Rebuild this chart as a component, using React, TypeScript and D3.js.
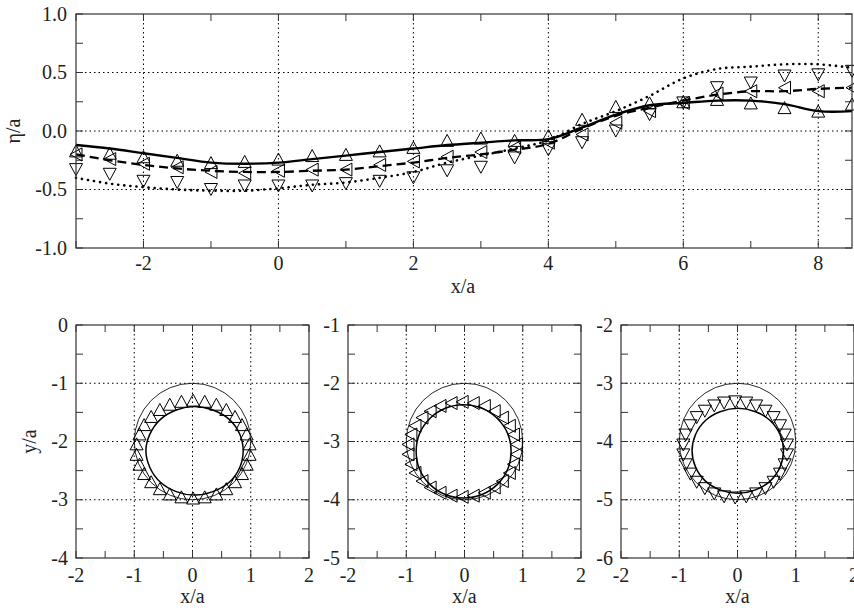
import React from 'react';
import * as d3 from 'd3';

// ---------- top panel data ----------
const xPositions = [-3, -2.5, -2, -1.5, -1, -0.5, 0, 0.5, 1, 1.5, 2, 2.5, 3, 3.5, 4, 4.5, 5, 5.5, 6, 6.5, 7, 7.5, 8, 8.5];
const solidLine = [-0.12, -0.15, -0.19, -0.23, -0.27, -0.28, -0.27, -0.24, -0.21, -0.18, -0.15, -0.12, -0.10, -0.08, -0.07, 0.03, 0.14, 0.22, 0.24, 0.26, 0.26, 0.23, 0.17, 0.17];
const dashedLine = [-0.20, -0.25, -0.29, -0.32, -0.34, -0.35, -0.35, -0.34, -0.33, -0.30, -0.27, -0.23, -0.20, -0.16, -0.11, 0.02, 0.13, 0.20, 0.26, 0.31, 0.34, 0.34, 0.36, 0.37];
const dottedLine = [-0.40, -0.45, -0.48, -0.50, -0.51, -0.51, -0.49, -0.46, -0.44, -0.40, -0.35, -0.27, -0.21, -0.15, -0.08, 0.06, 0.17, 0.30, 0.45, 0.53, 0.55, 0.57, 0.57, 0.54];
const upTriangles = [-0.17, -0.19, -0.22, -0.25, -0.27, -0.26, -0.24, -0.21, -0.20, -0.17, -0.14, -0.08, -0.06, -0.08, -0.04, 0.10, 0.21, 0.24, 0.25, 0.27, 0.24, 0.20, 0.17, 0.23];
const leftTriangles = [-0.20, -0.24, -0.28, -0.31, -0.35, -0.36, -0.34, -0.33, -0.33, -0.29, -0.26, -0.22, -0.18, -0.14, -0.10, -0.03, 0.07, 0.17, 0.24, 0.32, 0.34, 0.37, 0.34, 0.37];
const downTriangles = [-0.33, -0.37, -0.43, -0.44, -0.50, -0.47, -0.47, -0.47, -0.45, -0.43, -0.40, -0.34, -0.31, -0.23, -0.16, -0.10, 0.00, 0.14, 0.24, 0.37, 0.41, 0.47, 0.48, 0.51];
const topXTickLabels = [-2, 0, 2, 4, 6, 8];
const topYTickValues = [1, 0.5, 0, -0.5, -1];
const topYTickLabels = ['1.0', '0.5', '0.0', '-0.5', '-1.0'];

// ---------- bottom panels data ----------
const ringCenters = [-2, -3, -4];
const ringRadius = 1;
const bottomXTickLabels = [-2, -1, 0, 1, 2];

const ring1Line: [number, number][] = [
  [0.04, -1.40], [0.35, -1.46], [0.63, -1.62], [0.81, -1.87], [0.87, -2.16], [0.81, -2.45], [0.63, -2.70], [0.35, -2.86],
  [0.04, -2.92], [-0.28, -2.86], [-0.55, -2.70], [-0.73, -2.45], [-0.80, -2.16], [-0.73, -1.87], [-0.55, -1.62], [-0.28, -1.46],
];
const ring1Markers: [number, number][] = [
  [0.01, -1.29], [0.21, -1.31], [0.41, -1.36], [0.58, -1.45], [0.73, -1.57], [0.85, -1.71], [0.93, -1.87], [0.98, -2.04],
  [0.98, -2.22], [0.93, -2.39], [0.85, -2.55], [0.73, -2.69], [0.58, -2.81], [0.41, -2.90], [0.21, -2.95], [0.01, -2.97],
  [-0.19, -2.95], [-0.39, -2.90], [-0.56, -2.81], [-0.71, -2.69], [-0.83, -2.55], [-0.91, -2.39], [-0.96, -2.22], [-0.96, -2.04],
  [-0.91, -1.87], [-0.83, -1.71], [-0.71, -1.57], [-0.56, -1.45], [-0.39, -1.36], [-0.19, -1.31],
];
const ring2Line: [number, number][] = [
  [-0.02, -2.37], [0.30, -2.43], [0.56, -2.60], [0.74, -2.86], [0.80, -3.17], [0.74, -3.48], [0.56, -3.74], [0.30, -3.91],
  [-0.02, -3.97], [-0.33, -3.91], [-0.59, -3.74], [-0.77, -3.48], [-0.83, -3.17], [-0.77, -2.86], [-0.59, -2.60], [-0.33, -2.43],
];
const ring2Markers: [number, number][] = [
  [-0.04, -2.32], [0.15, -2.34], [0.34, -2.39], [0.51, -2.48], [0.65, -2.59], [0.77, -2.73], [0.84, -2.88], [0.89, -3.05],
  [0.89, -3.22], [0.84, -3.39], [0.77, -3.54], [0.65, -3.68], [0.51, -3.79], [0.34, -3.88], [0.15, -3.93], [-0.04, -3.95],
  [-0.23, -3.93], [-0.42, -3.88], [-0.59, -3.79], [-0.73, -3.68], [-0.85, -3.54], [-0.92, -3.39], [-0.97, -3.22], [-0.97, -3.05],
  [-0.92, -2.88], [-0.85, -2.73], [-0.73, -2.59], [-0.59, -2.48], [-0.42, -2.39], [-0.23, -2.34],
];
const ring3Line: [number, number][] = [
  [0.01, -3.43], [0.31, -3.49], [0.56, -3.64], [0.73, -3.88], [0.79, -4.16], [0.73, -4.44], [0.56, -4.68], [0.31, -4.83],
  [0.01, -4.89], [-0.30, -4.83], [-0.55, -4.68], [-0.72, -4.44], [-0.78, -4.16], [-0.72, -3.88], [-0.55, -3.64], [-0.30, -3.49],
];
const ring3Markers: [number, number][] = [
  [-0.04, -3.32], [0.15, -3.34], [0.32, -3.39], [0.48, -3.48], [0.62, -3.59], [0.73, -3.73], [0.81, -3.89], [0.85, -4.06],
  [0.85, -4.23], [0.81, -4.40], [0.73, -4.56], [0.62, -4.70], [0.48, -4.81], [0.32, -4.90], [0.15, -4.95], [-0.04, -4.97],
  [-0.23, -4.95], [-0.40, -4.90], [-0.56, -4.81], [-0.70, -4.70], [-0.81, -4.56], [-0.89, -4.40], [-0.93, -4.23], [-0.93, -4.06],
  [-0.89, -3.89], [-0.81, -3.73], [-0.70, -3.59], [-0.56, -3.48], [-0.40, -3.39], [-0.23, -3.34],
];

const FONT = "'Liberation Serif', 'DejaVu Serif', serif";
const TEXT = '#222';
const FRAME = '#333';
const FS = 20;

type Dir = 'up' | 'down' | 'left';
function triPath(dir: Dir, w: number, h: number): string {
  if (dir === 'up') return `M0,${-h / 2}L${w / 2},${h / 2}L${-w / 2},${h / 2}Z`;
  if (dir === 'down') return `M0,${h / 2}L${w / 2},${-h / 2}L${-w / 2},${-h / 2}Z`;
  return `M${-h / 2},0L${h / 2},${-w / 2}L${h / 2},${w / 2}Z`;
}

function Frame({ x0, x1, y0, y1 }: { x0: number; x1: number; y0: number; y1: number }) {
  return <rect x={x0} y={y0} width={x1 - x0} height={y1 - y0} fill="none" stroke={FRAME} strokeWidth={1.2} />;
}

const textStyle = { fontFamily: FONT, fontSize: FS, fill: TEXT } as React.CSSProperties;

function TopPlot() {
  const L = 76, R = 852, T = 14, B = 248;
  const x = d3.scaleLinear().domain([-3, 8.5]).range([L, R]);
  const y = d3.scaleLinear().domain([-1, 1]).range([B, T]);
  const line = d3.line<number>().x((_, i) => x(xPositions[i])).y((d) => y(d)).curve(d3.curveCatmullRom);
  const xMinor = d3.range(-3, 8.51, 1);
  const yMinor = d3.range(-1, 1.01, 0.25);
  const tk = 7;
  const up = triPath('up', 13, 12);
  const down = triPath('down', 13, 12);
  const left = triPath('left', 13, 12);
  return (
    <g>
      {topXTickLabels.map((v) => (
        <line key={'gx' + v} x1={x(v)} x2={x(v)} y1={T} y2={B} stroke="#000" strokeWidth={1} strokeDasharray="1.5,3" />
      ))}
      {[0.5, 0, -0.5].map((v) => (
        <line key={'gy' + v} x1={L} x2={R} y1={y(v)} y2={y(v)} stroke="#000" strokeWidth={1} strokeDasharray="1.5,3" />
      ))}
      {xMinor.map((v) => (
        <g key={'tx' + v}>
          <line x1={x(v)} x2={x(v)} y1={B} y2={B - tk} stroke={FRAME} />
          <line x1={x(v)} x2={x(v)} y1={T} y2={T + tk} stroke={FRAME} />
        </g>
      ))}
      {yMinor.map((v) => (
        <g key={'ty' + v}>
          <line x1={L} x2={L + tk} y1={y(v)} y2={y(v)} stroke={FRAME} />
          <line x1={R} x2={R - tk} y1={y(v)} y2={y(v)} stroke={FRAME} />
        </g>
      ))}
      <path d={line(solidLine) || ''} fill="none" stroke="#000" strokeWidth={2.4} />
      <path d={line(dashedLine) || ''} fill="none" stroke="#000" strokeWidth={2.3} strokeDasharray="9,5" />
      <path d={line(dottedLine) || ''} fill="none" stroke="#000" strokeWidth={2.6} strokeDasharray="0.1,6" strokeLinecap="round" />
      {upTriangles.map((v, i) => (
        <path key={'u' + i} d={up} transform={`translate(${x(xPositions[i])},${y(v)})`} fill="none" stroke="#000" strokeWidth={1} />
      ))}
      {leftTriangles.map((v, i) => (
        <path key={'l' + i} d={left} transform={`translate(${x(xPositions[i])},${y(v)})`} fill="none" stroke="#000" strokeWidth={1} />
      ))}
      {downTriangles.map((v, i) => (
        <path key={'d' + i} d={down} transform={`translate(${x(xPositions[i])},${y(v)})`} fill="none" stroke="#000" strokeWidth={1} />
      ))}
      <Frame x0={L} x1={R} y0={T} y1={B} />
      {topXTickLabels.map((v) => (
        <text key={'lx' + v} x={x(v)} y={270} textAnchor="middle" style={textStyle}>{String(v)}</text>
      ))}
      {topYTickValues.map((v, i) => (
        <text key={'ly' + v} x={67} y={y(v) + 6.5} textAnchor="end" style={textStyle}>{topYTickLabels[i]}</text>
      ))}
      <text x={463} y={293} textAnchor="middle" style={textStyle}>x/a</text>
      <text transform={`translate(20,${(T + B) / 2}) rotate(-90)`} textAnchor="middle" style={textStyle}>η/a</text>
    </g>
  );
}

function RingPanel({ left, center, lineData, markers, dir, showYLabel }: {
  left: number; center: number; lineData: [number, number][]; markers: [number, number][]; dir: Dir; showYLabel: boolean;
}) {
  const size = 233, T = 325;
  const L = left, R = left + size, B = T + size;
  const x = d3.scaleLinear().domain([-2, 2]).range([L, R]);
  const y = d3.scaleLinear().domain([center - 2, center + 2]).range([B, T]);
  const ring = d3.line<[number, number]>().x((d) => x(d[0])).y((d) => y(d[1])).curve(d3.curveCatmullRomClosed);
  const tk = 7;
  const minor = d3.range(-2, 2.01, 0.5);
  const yMinor = d3.range(center - 2, center + 2.01, 0.5);
  const yLabels = d3.range(center + 2, center - 2.01, -1);
  const m = triPath(dir, 13, 12);
  return (
    <g>
      {[-1, 0, 1].map((v) => (
        <line key={'gx' + v} x1={x(v)} x2={x(v)} y1={T} y2={B} stroke="#000" strokeWidth={1} strokeDasharray="1.5,3" />
      ))}
      {[center + 1, center, center - 1].map((v) => (
        <line key={'gy' + v} x1={L} x2={R} y1={y(v)} y2={y(v)} stroke="#000" strokeWidth={1} strokeDasharray="1.5,3" />
      ))}
      {minor.map((v) => (
        <g key={'tx' + v}>
          <line x1={x(v)} x2={x(v)} y1={B} y2={B - tk} stroke={FRAME} />
          <line x1={x(v)} x2={x(v)} y1={T} y2={T + tk} stroke={FRAME} />
        </g>
      ))}
      {yMinor.map((v) => (
        <g key={'ty' + v}>
          <line x1={L} x2={L + tk} y1={y(v)} y2={y(v)} stroke={FRAME} />
          <line x1={R} x2={R - tk} y1={y(v)} y2={y(v)} stroke={FRAME} />
        </g>
      ))}
      <circle cx={x(0)} cy={y(center)} r={x(ringRadius) - x(0)} fill="none" stroke="#111" strokeWidth={0.9} />
      <path d={ring(lineData) || ''} fill="none" stroke="#000" strokeWidth={1.5} />
      {markers.map((p, i) => (
        <path key={'m' + i} d={m} transform={`translate(${x(p[0])},${y(p[1])})`} fill="none" stroke="#000" strokeWidth={1} />
      ))}
      <Frame x0={L} x1={R} y0={T} y1={B} />
      {bottomXTickLabels.map((v) => (
        <text key={'lx' + v} x={x(v)} y={582} textAnchor="middle" style={textStyle}>{String(v)}</text>
      ))}
      {yLabels.map((v) => (
        <text key={'ly' + v} x={L - 8} y={y(v) + 6.5} textAnchor="end" style={textStyle}>{String(Math.round(v))}</text>
      ))}
      <text x={(L + R) / 2} y={603} textAnchor="middle" style={textStyle}>x/a</text>
      {showYLabel && (
        <text transform={`translate(36,${(T + B) / 2}) rotate(-90)`} textAnchor="middle" style={textStyle}>y/a</text>
      )}
    </g>
  );
}

export default function App() {
  return (
    <svg width={854} height={612} viewBox="0 0 854 612" style={{ position: 'absolute', left: 0, top: 0, background: '#fff' }}>
      <rect x={0} y={0} width={854} height={612} fill="#fff" />
      <TopPlot />
      <RingPanel left={76} center={ringCenters[0]} lineData={ring1Line} markers={ring1Markers} dir="up" showYLabel={true} />
      <RingPanel left={348} center={ringCenters[1]} lineData={ring2Line} markers={ring2Markers} dir="left" showYLabel={false} />
      <RingPanel left={621} center={ringCenters[2]} lineData={ring3Line} markers={ring3Markers} dir="down" showYLabel={false} />
    </svg>
  );
}
